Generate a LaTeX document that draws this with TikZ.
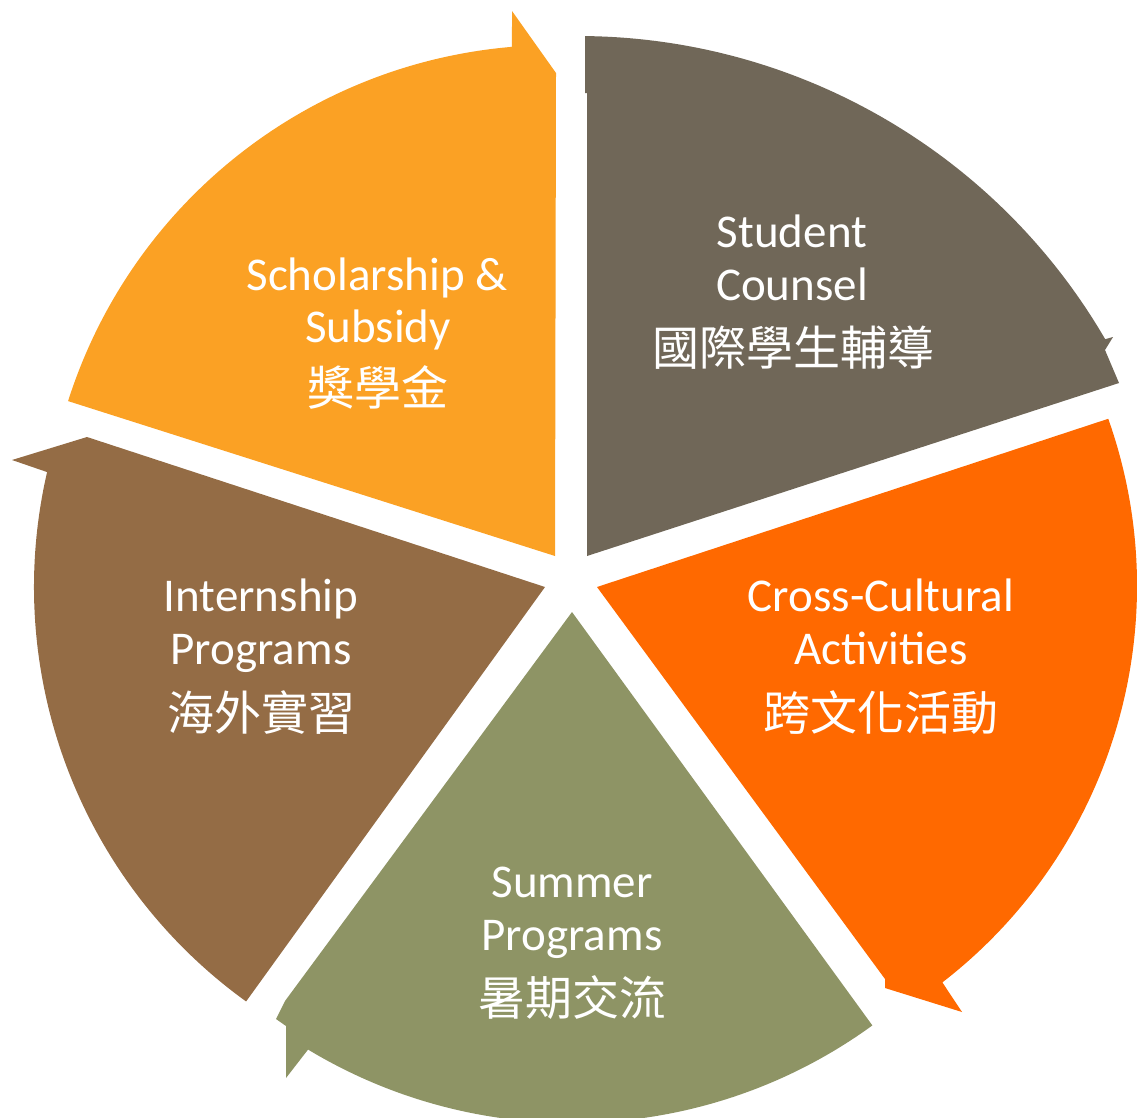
\documentclass[tikz,border=0pt]{standalone}
\usepackage{fontspec}
\setmainfont{Carlito}
\newfontfamily\cjk{Noto Sans CJK TC}
\usetikzlibrary{calc}
\definecolor{cSch}{RGB}{251,161,36}
\definecolor{cCou}{RGB}{112,103,88}
\definecolor{cCro}{RGB}{255,105,0}
\definecolor{cSum}{RGB}{142,148,101}
\definecolor{cInt}{RGB}{148,108,69}
\begin{document}
\begin{tikzpicture}[x=1pt,y=-1pt,
  lbl/.style={text=white,font=\fontsize{47}{56}\selectfont,anchor=base,inner sep=0pt},
  zh/.style={lbl,font=\cjk\fontsize{47}{56}\selectfont}]
\useasboundingbox (0,0) rectangle (1137,1117);

% apex of each segment and centre of its outer rim
\coordinate (aSch) at (555,556);
\coordinate (aCou) at (587,556);
\coordinate (cCou) at (578,646);
\coordinate (aCro) at (597,587);
\coordinate (cCro) at (636,586);
\coordinate (aSum) at (572,612);
\coordinate (aInt) at (545,587);

% Scholarship & Subsidy
\fill[cSch] (aSch) -- ($(aSch)+(-162.35:511)$)
  arc[start angle=-162.35,end angle=-94.83,radius=511]
  -- (512,11) -- (556,73) -- cycle;

% Student Counsel
\fill[cCou] (aCou) -- (587,93) -- (585,93) -- ($(cCou)+(-89.34:610)$)
  arc[start angle=-89.34,end angle=-30.2,radius=610]
  -- (1113,337) -- (1105,350) -- (1119,383) -- cycle;

% Cross-Cultural Activities
\fill[cCro] (aCro) -- ($(cCro)+(-19.5:501)$)
  arc[start angle=-19.5,end angle=52.3,radius=501]
  -- (962,1012) -- (885,988) -- (885,979) -- cycle;

% Summer Programs
\fill[cSum] (aSum) -- ($(aSum)+(54:511)$)
  arc[start angle=54,end angle=121.1,radius=511]
  -- (286,1078) -- (286,1026) -- (276,1019) -- (285,1001) -- cycle;

% Internship Programs
\fill[cInt] (aInt) -- ($(aInt)+(125.8:511)$)
  arc[start angle=125.8,end angle=193,radius=511]
  -- (12,460) -- (87,437) -- cycle;

% labels
\node[lbl] (sch1) at (377,290) {Scholarship \&};
\node[lbl] (sch2) at (378,342) {Subsidy};
\node[zh]  (sch3) at (378,405) {獎學金};

\node[lbl] (cou1) at (792,247) {Student};
\node[lbl] (cou2) at (792,300) {Counsel};
\node[zh]  (cou3) at (793,365) {國際學生輔導};

\node[lbl] (cro1) at (881,611) {Cross-Cultural};
\node[lbl] (cro2) at (881,664) {Activities};
\node[zh]  (cro3) at (881,730) {跨文化活動};

\node[lbl] (sum1) at (572,897) {Summer};
\node[lbl] (sum2) at (572,950) {Programs};
\node[zh]  (sum3) at (572,1015) {暑期交流};

\node[lbl] (int1) at (261,611) {Internship};
\node[lbl] (int2) at (261,664) {Programs};
\node[zh]  (int3) at (261,730) {海外實習};
\end{tikzpicture}
\end{document}
